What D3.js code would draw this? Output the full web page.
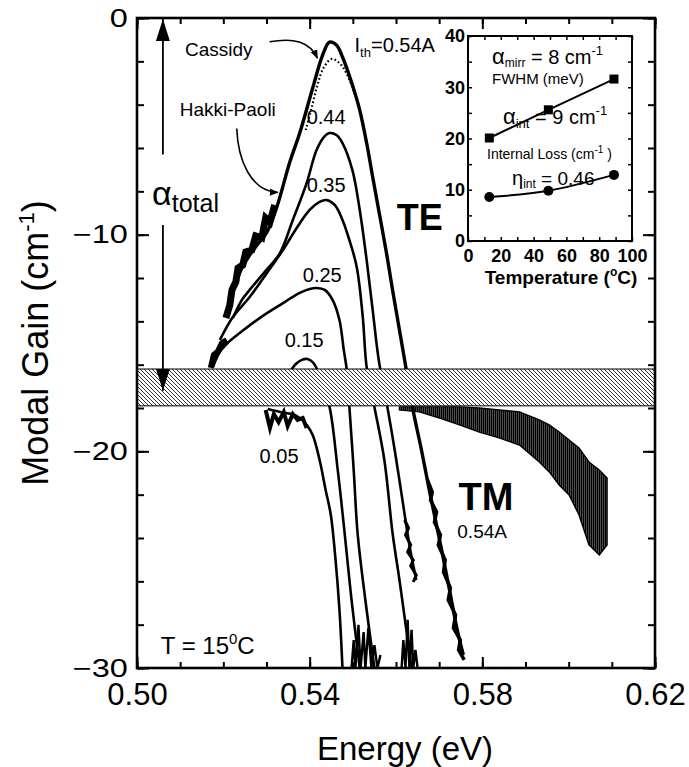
<!DOCTYPE html>
<html>
<head>
<meta charset="utf-8">
<script src="https://cdn.jsdelivr.net/npm/d3@7"></script>
<style>
  body { margin: 0; background: #fff; }
  svg { display: block; }
  text { font-family: "Liberation Sans", Arial, Helvetica, sans-serif; fill: #000; }
</style>
</head>
<body>
<div id="wrapper"></div>
<script>
// ---- values ----
const xTickLabels = [0.50, 0.54, 0.58, 0.62];
const yTickLabels = [0, -10, -20, -30];
const lossBand = [-16.2, -17.9];   // alpha_total band (cm-1)

// TE modal gain, [energy eV, gain cm-1]
const te054 = [[0.5213,-13.01],[0.5227,-12.32],[0.5243,-11.54],[0.5261,-10.94],[0.5280,-10.43],[0.5301,-9.88],
  [0.5324,-8.72],[0.5354,-6.65],[0.5377,-5.31],[0.5407,-3.23],[0.5430,-1.71],[0.5446,-1.11],[0.5462,-1.25],
  [0.5476,-1.80],[0.5499,-3.09],[0.5516,-4.25],[0.5532,-5.77],[0.5546,-7.34],[0.5562,-9.09],[0.5578,-10.85],
  [0.5592,-12.55],[0.5608,-14.40],[0.5624,-16.25],[0.5638,-17.95],[0.5659,-19.94],[0.5677,-21.78],
  [0.5701,-24.09],[0.5724,-26.40],[0.5742,-28.25],[0.5756,-29.40]];
const te044 = [[0.5222,-13.85],[0.5243,-13.01],[0.5261,-12.55],[0.5296,-11.72],[0.5331,-10.85],[0.5361,-9.32],
  [0.5393,-7.62],[0.5416,-6.09],[0.5435,-5.45],[0.5446,-5.31],[0.5462,-5.40],[0.5476,-5.77],[0.5499,-7.02],
  [0.5516,-8.86],[0.5532,-11.17],[0.5546,-13.48],[0.5560,-15.78],[0.5580,-17.95],[0.5597,-19.94],
  [0.5615,-22.25],[0.5631,-24.32],[0.5647,-25.94]];
const te035 = [[0.5192,-14.86],[0.5222,-13.80],[0.5261,-12.88],[0.5301,-11.77],[0.5338,-10.71],[0.5370,-9.69],
  [0.5400,-8.86],[0.5423,-8.49],[0.5439,-8.40],[0.5458,-8.63],[0.5476,-9.32],[0.5492,-10.25],[0.5509,-11.49],
  [0.5523,-13.80],[0.5532,-16.11],[0.5550,-17.95],[0.5573,-20.40],[0.5592,-23.77],[0.5608,-25.94],
  [0.5624,-28.25],[0.5636,-30.0]];
const te025 = [[0.5176,-16.11],[0.5192,-15.41],[0.5210,-15.00],[0.5238,-14.54],[0.5284,-13.85],[0.5331,-13.25],
  [0.5377,-12.69],[0.5400,-12.51],[0.5416,-12.46],[0.5435,-12.55],[0.5453,-13.01],[0.5469,-13.94],
  [0.5479,-15.32],[0.5486,-16.25],[0.5492,-17.95],[0.5502,-20.86],[0.5511,-23.77],[0.5529,-26.86],[0.5550,-30.0]];
const te015 = [[0.5354,-16.34],[0.5368,-15.97],[0.5382,-15.78],[0.5395,-15.74],[0.5407,-15.88],[0.5418,-16.25],
  [0.5432,-17.17],[0.5446,-17.95],[0.5465,-20.86],[0.5481,-23.77],[0.5497,-26.86],[0.5516,-30.0]];
const te005 = [[0.5303,-18.05],[0.5331,-18.18],[0.5358,-18.28],[0.5377,-18.46],[0.5393,-18.78],[0.5407,-19.25],
  [0.5423,-20.40],[0.5437,-21.78],[0.5449,-22.94],[0.5460,-25.02],[0.5469,-27.32],[0.5476,-30.0]];
// Cassidy method, 0.54 A (dotted)
const cassidy054 = [[0.5391,-5.17],[0.5405,-4.11],[0.5418,-3.09],[0.5432,-2.31],[0.5451,-1.89],[0.5469,-2.08],
  [0.5486,-2.58],[0.5509,-3.78],[0.5523,-4.94],[0.5534,-5.95]];

// noisy stretches traced as jagged paths, [energy, gain]
const noiseLeftTail = [[0.5319,-8.63],[0.5308,-9.41],[0.5298,-9.23],[0.5289,-10.15],[0.5275,-10.06],[0.5266,-10.71],
  [0.5252,-10.80],[0.5245,-11.40],[0.5234,-11.54],[0.5229,-12.18],[0.5220,-12.55],[0.5215,-13.25],[0.5206,-13.85]];
const noiseStart025 = [[0.5171,-16.15],[0.5178,-15.55],[0.5187,-15.41],[0.5197,-15.0],[0.5208,-14.86]];
const noisePeak005 = [[0.5298,-18.09],[0.5308,-18.92],[0.5317,-18.28],[0.5328,-18.65],[0.5340,-18.18],[0.5349,-18.83],
  [0.5361,-18.28],[0.5372,-18.55],[0.5384,-18.46],[0.5393,-18.92]];
const noiseTail054 = [[0.5673,-21.32],[0.5684,-21.88],[0.5680,-22.25],[0.5694,-22.80],[0.5689,-23.26],[0.5703,-23.86],
  [0.5698,-24.32],[0.5714,-25.02],[0.5710,-25.57],[0.5726,-26.31],[0.5721,-26.86],[0.5738,-27.55],[0.5733,-28.15],
  [0.5749,-28.71],[0.5745,-29.17],[0.5758,-29.63]];
const noiseTail044 = [[0.5620,-23.17],[0.5629,-23.54],[0.5622,-23.86],[0.5634,-24.32],[0.5627,-24.65],[0.5640,-25.02],
  [0.5634,-25.29],[0.5647,-25.71],[0.5640,-26.03]];
const noiseFoot015 = [[0.5497,-30],[0.5502,-28.71],[0.5506,-30],[0.5513,-28.01],[0.5518,-30],[0.5525,-28.34],
  [0.5529,-30],[0.5536,-28.15],[0.5543,-30],[0.5550,-28.94],[0.5557,-30],[0.5564,-29.40]];
const noiseFoot035 = [[0.5613,-30],[0.5617,-28.71],[0.5622,-30],[0.5627,-27.78],[0.5631,-30],[0.5636,-28.24],
  [0.5640,-30],[0.5645,-29.17],[0.5650,-30]];
// TM 0.54 A, [energy, upper gain, lower gain]
const tm054 = [[0.5608,-17.95,-18.09],[0.5654,-17.95,-18.18],[0.5701,-17.95,-18.46],[0.5747,-17.95,-18.78],
  [0.5793,-18.0,-19.11],[0.5839,-18.09,-19.38],[0.5886,-18.18,-19.71],[0.5932,-18.55,-20.49],[0.5955,-18.78,-20.95],
  [0.5978,-19.11,-21.55],[0.6001,-19.48,-22.01],[0.6024,-19.85,-22.94],[0.6047,-20.49,-24.32],[0.6071,-20.86,-24.78],
  [0.6089,-21.23,-24.32]];

// inset
const insetTemps = [13, 49, 89];
const fwhm = [20.1, 25.6, 31.6];
const internalLoss = [8.6, 9.8, 12.9];
const insetXTicks = [0, 20, 40, 60, 80, 100];
const insetYTicks = [0, 10, 20, 30, 40];

// ---- dimensions ----
let dimensions = {
  width: 689,
  height: 767,
  margin: { top: 18, right: 34, bottom: 99, left: 137 },
};
dimensions.boundedWidth = dimensions.width - dimensions.margin.left - dimensions.margin.right;
dimensions.boundedHeight = dimensions.height - dimensions.margin.top - dimensions.margin.bottom;

const svg = d3.select("#wrapper").append("svg")
  .attr("width", dimensions.width)
  .attr("height", dimensions.height);

const defs = svg.append("defs");
defs.append("clipPath").attr("id", "plotClip").append("rect")
  .attr("width", dimensions.boundedWidth).attr("height", dimensions.boundedHeight);

const hatch = defs.append("pattern").attr("id", "hatch")
  .attr("patternUnits", "userSpaceOnUse").attr("width", 4).attr("height", 4);
hatch.append("rect").attr("width", 4).attr("height", 4).attr("fill", "#fff");
hatch.append("path").attr("d", "M-1,-1 L5,5 M-1,3 L1,5 M3,-1 L5,1")
  .attr("stroke", "#333").attr("stroke-width", 1);

const spikes = defs.append("pattern").attr("id", "spikes")
  .attr("patternUnits", "userSpaceOnUse").attr("width", 2).attr("height", 40);
spikes.append("rect").attr("width", 1.7).attr("height", 40).attr("fill", "#000");

defs.append("marker").attr("id", "head").attr("viewBox", "0 0 10 10")
  .attr("refX", 9).attr("refY", 5).attr("markerWidth", 9).attr("markerHeight", 9)
  .attr("markerUnits", "userSpaceOnUse").attr("orient", "auto")
  .append("path").attr("d", "M0,1 L10,5 L0,9 Z").attr("fill", "#000");
defs.append("marker").attr("id", "bigHead").attr("viewBox", "0 0 10 10")
  .attr("refX", 10).attr("refY", 5).attr("markerWidth", 22).attr("markerHeight", 14)
  .attr("markerUnits", "userSpaceOnUse").attr("orient", "auto").attr("preserveAspectRatio", "none")
  .append("path").attr("d", "M0,0 L10,5 L0,10 Z").attr("fill", "#000");

const bounds = svg.append("g")
  .attr("transform", `translate(${dimensions.margin.left},${dimensions.margin.top})`);

// ---- scales ----
const xScale = d3.scaleLinear().domain([0.50, 0.62]).range([0, dimensions.boundedWidth]);
const yScale = d3.scaleLinear().domain([-30, 0]).range([dimensions.boundedHeight, 0]);
const at = (e, g) => `translate(${xScale(e)},${yScale(g)})`;

// ---- data ----
const plot = bounds.append("g").attr("clip-path", "url(#plotClip)");
const lineGen = d3.line().x(d => xScale(d[0])).y(d => yScale(d[1])).curve(d3.curveCatmullRom.alpha(0.5));
const jagGen = d3.line().x(d => xScale(d[0])).y(d => yScale(d[1])).curve(d3.curveLinear);
const areaGen = d3.area().x(d => xScale(d[0])).y0(d => yScale(d[2])).y1(d => yScale(d[1])).curve(d3.curveLinear);

const teCurves = [
  { data: te054, w: 3.4 }, { data: te044, w: 2.6 }, { data: te035, w: 2.6 },
  { data: te025, w: 2.6 }, { data: te015, w: 2.6 }, { data: te005, w: 2.6 },
];
plot.selectAll(".te").data(teCurves).join("path")
  .attr("class", "te").attr("d", d => lineGen(d.data))
  .attr("fill", "none").attr("stroke", "#000").attr("stroke-width", d => d.w)
  .attr("stroke-linejoin", "round");

plot.append("path").attr("d", lineGen(cassidy054))
  .attr("fill", "none").attr("stroke", "#000").attr("stroke-width", 2.2)
  .attr("stroke-dasharray", "1.6,2.4");

const noiseSets = [
  { data: noiseLeftTail, w: 7 }, { data: noiseStart025, w: 6 }, { data: noisePeak005, w: 4 },
  { data: noiseTail054, w: 3.5 }, { data: noiseTail044, w: 3 },
  { data: noiseFoot015, w: 2.4 }, { data: noiseFoot035, w: 2.4 },
];
plot.selectAll(".noise").data(noiseSets).join("path")
  .attr("class", "noise").attr("d", d => jagGen(d.data))
  .attr("fill", "none").attr("stroke", "#000").attr("stroke-width", d => d.w)
  .attr("stroke-linejoin", "miter");

plot.append("path").attr("d", areaGen(tm054)).attr("fill", "url(#spikes)");
plot.append("path").attr("d", areaGen(tm054)).attr("fill", "none")
  .attr("stroke", "#000").attr("stroke-width", 1.4);

// alpha_total band
bounds.append("rect")
  .attr("x", 0).attr("width", dimensions.boundedWidth)
  .attr("y", yScale(lossBand[0]))
  .attr("height", yScale(lossBand[1]) - yScale(lossBand[0]))
  .attr("fill", "url(#hatch)").attr("stroke", "#000").attr("stroke-width", 1);

// ---- axes ----
const minorX = d3.range(0, 13).map(i => 0.50 + i * 0.01);
const minorY = d3.range(0, 16).map(i => -30 + i * 2);

bounds.append("g").attr("transform", `translate(0,${dimensions.boundedHeight})`)
  .call(d3.axisBottom(xScale).tickValues(minorX).tickSize(-6).tickFormat(""));
bounds.append("g").attr("transform", `translate(0,${dimensions.boundedHeight})`)
  .call(d3.axisBottom(xScale).tickValues(xTickLabels).tickSize(-11).tickPadding(15).tickFormat(d3.format(".2f")))
  .call(g => g.selectAll("text").attr("font-size", 31));
bounds.append("g").call(d3.axisTop(xScale).tickValues(minorX).tickSize(-6).tickFormat(""));
bounds.append("g").call(d3.axisTop(xScale).tickValues(xTickLabels).tickSize(-11).tickFormat(""));

bounds.append("g").call(d3.axisLeft(yScale).tickValues(minorY).tickSize(-7).tickFormat(""));
bounds.append("g").call(d3.axisLeft(yScale).tickValues(yTickLabels).tickSize(-12).tickPadding(7).tickFormat(d3.format("d")))
  .call(g => g.selectAll("text").attr("font-size", 25).attr("transform", "scale(1.3,1)"));
bounds.append("g").attr("transform", `translate(${dimensions.boundedWidth},0)`)
  .call(d3.axisRight(yScale).tickValues(minorY).tickSize(-7).tickFormat(""));
bounds.append("g").attr("transform", `translate(${dimensions.boundedWidth},0)`)
  .call(d3.axisRight(yScale).tickValues(yTickLabels).tickSize(-12).tickFormat(""));

bounds.selectAll(".domain").remove();
bounds.selectAll(".tick line").attr("stroke", "#000").attr("stroke-width", 2);
bounds.selectAll(".tick text").attr("fill", "#000").style("font-family", '"Liberation Sans", Arial, sans-serif');

bounds.append("rect").attr("width", dimensions.boundedWidth).attr("height", dimensions.boundedHeight)
  .attr("fill", "none").attr("stroke", "#000").attr("stroke-width", 2.6);

// axis titles
svg.append("text").attr("x", 405).attr("y", 760).attr("text-anchor", "middle").attr("font-size", 33)
  .text("Energy (eV)");
const yTitle = svg.append("text").attr("transform", "translate(48,343) rotate(-90)")
  .attr("text-anchor", "middle").attr("font-size", 36);
yTitle.append("tspan").text("Modal Gain (cm");
yTitle.append("tspan").attr("font-size", 22).attr("dy", -14).text("-1");
yTitle.append("tspan").attr("dy", 14).text(")");

// ---- annotations ----
const curveLabels = [["0.44", 0.5393, -4.89], ["0.35", 0.5393, -8.03], ["0.25", 0.5384, -12.18],
  ["0.15", 0.5342, -15.18], ["0.05", 0.5284, -20.54]];
bounds.selectAll(".clabel").data(curveLabels).join("text")
  .attr("class", "clabel").attr("transform", d => at(d[1], d[2])).attr("font-size", 20).text(d => d[0]);

const ith = bounds.append("text").attr("transform", at(0.5504, -1.57)).attr("font-size", 20);
ith.append("tspan").text("I");
ith.append("tspan").attr("font-size", 13).attr("dy", 5).text("th");
ith.append("tspan").attr("dy", -5).text("=0.54A");

bounds.append("text").attr("transform", at(0.5602, -9.8)).attr("font-size", 36).attr("font-weight", "bold").text("TE");
bounds.append("text").attr("transform", at(0.5745, -22.7)).attr("font-size", 38).attr("font-weight", "bold").text("TM");
bounds.append("text").attr("transform", at(0.5742, -24.0)).attr("font-size", 19).text("0.54A");

const tLabel = bounds.append("text").attr("transform", at(0.5055, -29.35)).attr("font-size", 24);
tLabel.append("tspan").text("T = 15");
tLabel.append("tspan").attr("font-size", 15).attr("dy", -10).text("0");
tLabel.append("tspan").attr("dy", 10).text("C");

bounds.append("text").attr("transform", at(0.5111, -1.75)).attr("font-size", 19).text("Cassidy");
bounds.append("text").attr("transform", at(0.5099, -4.5)).attr("font-size", 19).text("Hakki-Paoli");

// Cassidy / Hakki-Paoli arrows
const arrowPath = (p0, c1, c2, p1) =>
  `M${xScale(p0[0])},${yScale(p0[1])} C${xScale(c1[0])},${yScale(c1[1])} ${xScale(c2[0])},${yScale(c2[1])} ${xScale(p1[0])},${yScale(p1[1])}`;
bounds.append("path").attr("d", arrowPath([0.5307, -1.1], [0.5365, -0.9], [0.5400, -1.1], [0.5418, -1.85]))
  .attr("fill", "none").attr("stroke", "#000").attr("stroke-width", 1.6).attr("marker-end", "url(#head)");
bounds.append("path").attr("d", arrowPath([0.5231, -5.1], [0.5234, -6.6], [0.5265, -8.0], [0.5326, -8.05]))
  .attr("fill", "none").attr("stroke", "#000").attr("stroke-width", 1.6).attr("marker-end", "url(#head)");

// alpha_total arrow
const aX = xScale(0.5060);
bounds.append("line").attr("x1", aX).attr("x2", aX).attr("y1", yScale(-6.3)).attr("y2", yScale(-0.05))
  .attr("stroke", "#000").attr("stroke-width", 1.8).attr("marker-end", "url(#bigHead)");
bounds.append("line").attr("x1", aX).attr("x2", aX).attr("y1", yScale(-9.55)).attr("y2", yScale(-17.2))
  .attr("stroke", "#000").attr("stroke-width", 1.8).attr("marker-end", "url(#bigHead)");
const aLabel = bounds.append("text").attr("transform", at(0.5035, -8.62)).attr("font-size", 34);
aLabel.append("tspan").text("α");
aLabel.append("tspan").attr("font-size", 25).attr("dy", 7).text("total");

// ---- inset ----
const inset = { left: 468, right: 632, top: 36, bottom: 241 };
const ix = d3.scaleLinear().domain([0, 100]).range([inset.left, inset.right]);
const iy = d3.scaleLinear().domain([0, 40]).range([inset.bottom, inset.top]);
const ig = svg.append("g");

ig.append("rect").attr("x", inset.left).attr("y", inset.top)
  .attr("width", inset.right - inset.left).attr("height", inset.bottom - inset.top)
  .attr("fill", "#fff").attr("stroke", "#000").attr("stroke-width", 2);

const insetMinorX = d3.range(0, 11).map(i => i * 10);
const insetMinorY = d3.range(0, 9).map(i => i * 5);
ig.append("g").attr("transform", `translate(0,${inset.bottom})`)
  .call(d3.axisBottom(ix).tickValues(insetMinorX).tickSize(-4).tickFormat(""));
ig.append("g").attr("transform", `translate(0,${inset.bottom})`)
  .call(d3.axisBottom(ix).tickValues(insetXTicks).tickSize(0).tickPadding(8).tickFormat(d3.format("d")))
  .call(g => g.selectAll("text").attr("font-size", 18));
ig.append("g").attr("transform", `translate(0,${inset.top})`)
  .call(d3.axisTop(ix).tickValues(insetMinorX).tickSize(-4).tickFormat(""));
ig.append("g").attr("transform", `translate(${inset.left},0)`)
  .call(d3.axisLeft(iy).tickValues(insetMinorY).tickSize(-4).tickFormat(""));
ig.append("g").attr("transform", `translate(${inset.left},0)`)
  .call(d3.axisLeft(iy).tickValues(insetYTicks).tickSize(0).tickPadding(3).tickFormat(d3.format("d")))
  .call(g => g.selectAll("text").attr("font-size", 18));
ig.append("g").attr("transform", `translate(${inset.right},0)`)
  .call(d3.axisRight(iy).tickValues(insetMinorY).tickSize(-4).tickFormat(""));
ig.selectAll(".domain").remove();
ig.selectAll(".tick line").attr("stroke", "#000").attr("stroke-width", 1.5);
ig.selectAll(".tick text").attr("fill", "#000").attr("font-weight", "bold")
  .style("font-family", '"Liberation Sans", Arial, sans-serif');

const fwhmPts = insetTemps.map((t, i) => [t, fwhm[i]]);
const lossPts = insetTemps.map((t, i) => [t, internalLoss[i]]);
const iLine = d3.line().x(d => ix(d[0])).y(d => iy(d[1]));
ig.append("path").attr("d", iLine.curve(d3.curveLinear)(fwhmPts))
  .attr("fill", "none").attr("stroke", "#000").attr("stroke-width", 2);
ig.append("path").attr("d", iLine.curve(d3.curveNatural)(lossPts))
  .attr("fill", "none").attr("stroke", "#000").attr("stroke-width", 2);
ig.selectAll(".sq").data(fwhmPts).join("rect").attr("class", "sq")
  .attr("x", d => ix(d[0]) - 4.5).attr("y", d => iy(d[1]) - 4.5).attr("width", 9).attr("height", 9).attr("fill", "#000");
ig.selectAll(".dot").data(lossPts).join("circle").attr("class", "dot")
  .attr("cx", d => ix(d[0])).attr("cy", d => iy(d[1])).attr("r", 5).attr("fill", "#000");

const tTitle = ig.append("text").attr("x", 561).attr("y", 284).attr("text-anchor", "middle")
  .attr("font-size", 19).attr("font-weight", "bold");
tTitle.append("tspan").text("Temperature (");
tTitle.append("tspan").attr("font-size", 12).attr("dy", -8).text("o");
tTitle.append("tspan").attr("dy", 8).text("C)");

const aMirr = ig.append("text").attr("x", 492).attr("y", 64).attr("font-size", 20);
aMirr.append("tspan").attr("font-size", 22).text("α");
aMirr.append("tspan").attr("font-size", 12).attr("dy", 3).text("mirr");
aMirr.append("tspan").attr("dy", -3).text(" = 8 cm");
aMirr.append("tspan").attr("font-size", 13).attr("dy", -9).text("-1");
ig.append("text").attr("x", 492).attr("y", 84).attr("font-size", 15).text("FWHM (meV)");

const aInt = ig.append("text").attr("x", 503).attr("y", 124).attr("font-size", 20);
aInt.append("tspan").attr("font-size", 22).text("α");
aInt.append("tspan").attr("font-size", 13).attr("dy", 4).text("int");
aInt.append("tspan").attr("dy", -4).text(" = 9 cm");
aInt.append("tspan").attr("font-size", 13).attr("dy", -9).text("-1");

const iLoss = ig.append("text").attr("x", 487).attr("y", 159).attr("font-size", 14);
iLoss.append("tspan").text("Internal Loss (cm");
iLoss.append("tspan").attr("font-size", 10).attr("dy", -6).text("-1");
iLoss.append("tspan").attr("dy", 6).text(" )");

const eta = ig.append("text").attr("x", 512).attr("y", 185).attr("font-size", 19);
eta.append("tspan").attr("font-size", 20).text("η");
eta.append("tspan").attr("font-size", 12).attr("dy", 3).text("int");
eta.append("tspan").attr("dy", -3).text(" = 0.46");
</script>
</body>
</html>
